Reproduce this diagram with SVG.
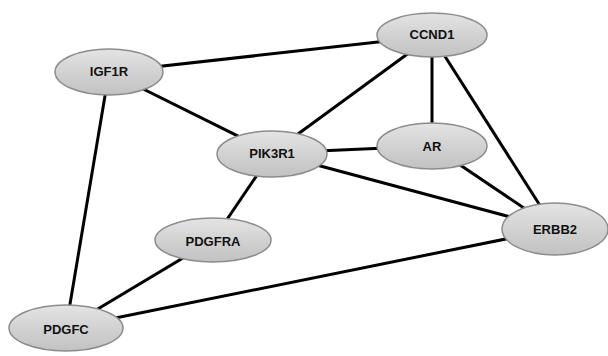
<svg xmlns="http://www.w3.org/2000/svg" width="608" height="356" viewBox="0 0 608 356">
<defs>
<linearGradient id="g" x1="0" y1="0" x2="0" y2="1">
<stop offset="0" stop-color="#e4e4e4"/>
<stop offset="0.5" stop-color="#d2d2d2"/>
<stop offset="1" stop-color="#c2c2c2"/>
</linearGradient>
<style>
.e{stroke:#000;stroke-width:3;fill:none}
.n ellipse{fill:url(#g);stroke:#8c8c8c;stroke-width:1.5}
.n text{font-family:"Liberation Sans",Arial,sans-serif;font-weight:bold;font-size:13px;fill:#111;text-anchor:middle;dominant-baseline:central}
</style>
</defs>
<rect width="608" height="356" fill="#fff"/>
<g id="edges">
<line class="e" x1="109" y1="72" x2="432" y2="36"/>
<line class="e" x1="109" y1="72" x2="272" y2="153"/>
<line class="e" x1="109" y1="72" x2="66" y2="328"/>
<line class="e" x1="432" y1="36" x2="272" y2="153"/>
<line class="e" x1="432" y1="36" x2="432" y2="146"/>
<line class="e" x1="432" y1="36" x2="555" y2="229"/>
<line class="e" x1="272" y1="153" x2="432" y2="146"/>
<line class="e" x1="272" y1="153" x2="555" y2="229"/>
<line class="e" x1="272" y1="153" x2="213" y2="240"/>
<line class="e" x1="432" y1="146" x2="555" y2="229"/>
<line class="e" x1="213" y1="240" x2="66" y2="328"/>
<line class="e" x1="66" y1="328" x2="555" y2="229"/>
</g>
<g id="IGF1R" class="n"><ellipse cx="109" cy="72" rx="54" ry="23"/><text x="109" y="71">IGF1R</text></g>
<g id="CCND1" class="n"><ellipse cx="432" cy="35" rx="55" ry="22"/><text x="432" y="34">CCND1</text></g>
<g id="PIK3R1" class="n"><ellipse cx="272" cy="154" rx="55" ry="23"/><text x="272" y="153">PIK3R1</text></g>
<g id="AR" class="n"><ellipse cx="432" cy="146" rx="55" ry="23"/><text x="432" y="146">AR</text></g>
<g id="PDGFRA" class="n"><ellipse cx="213" cy="240" rx="58" ry="22"/><text x="213" y="241">PDGFRA</text></g>
<g id="ERBB2" class="n"><ellipse cx="555" cy="229" rx="53" ry="26"/><text x="555" y="229">ERBB2</text></g>
<g id="PDGFC" class="n"><ellipse cx="66" cy="328" rx="57" ry="23"/><text x="66" y="329">PDGFC</text></g>
</svg>
